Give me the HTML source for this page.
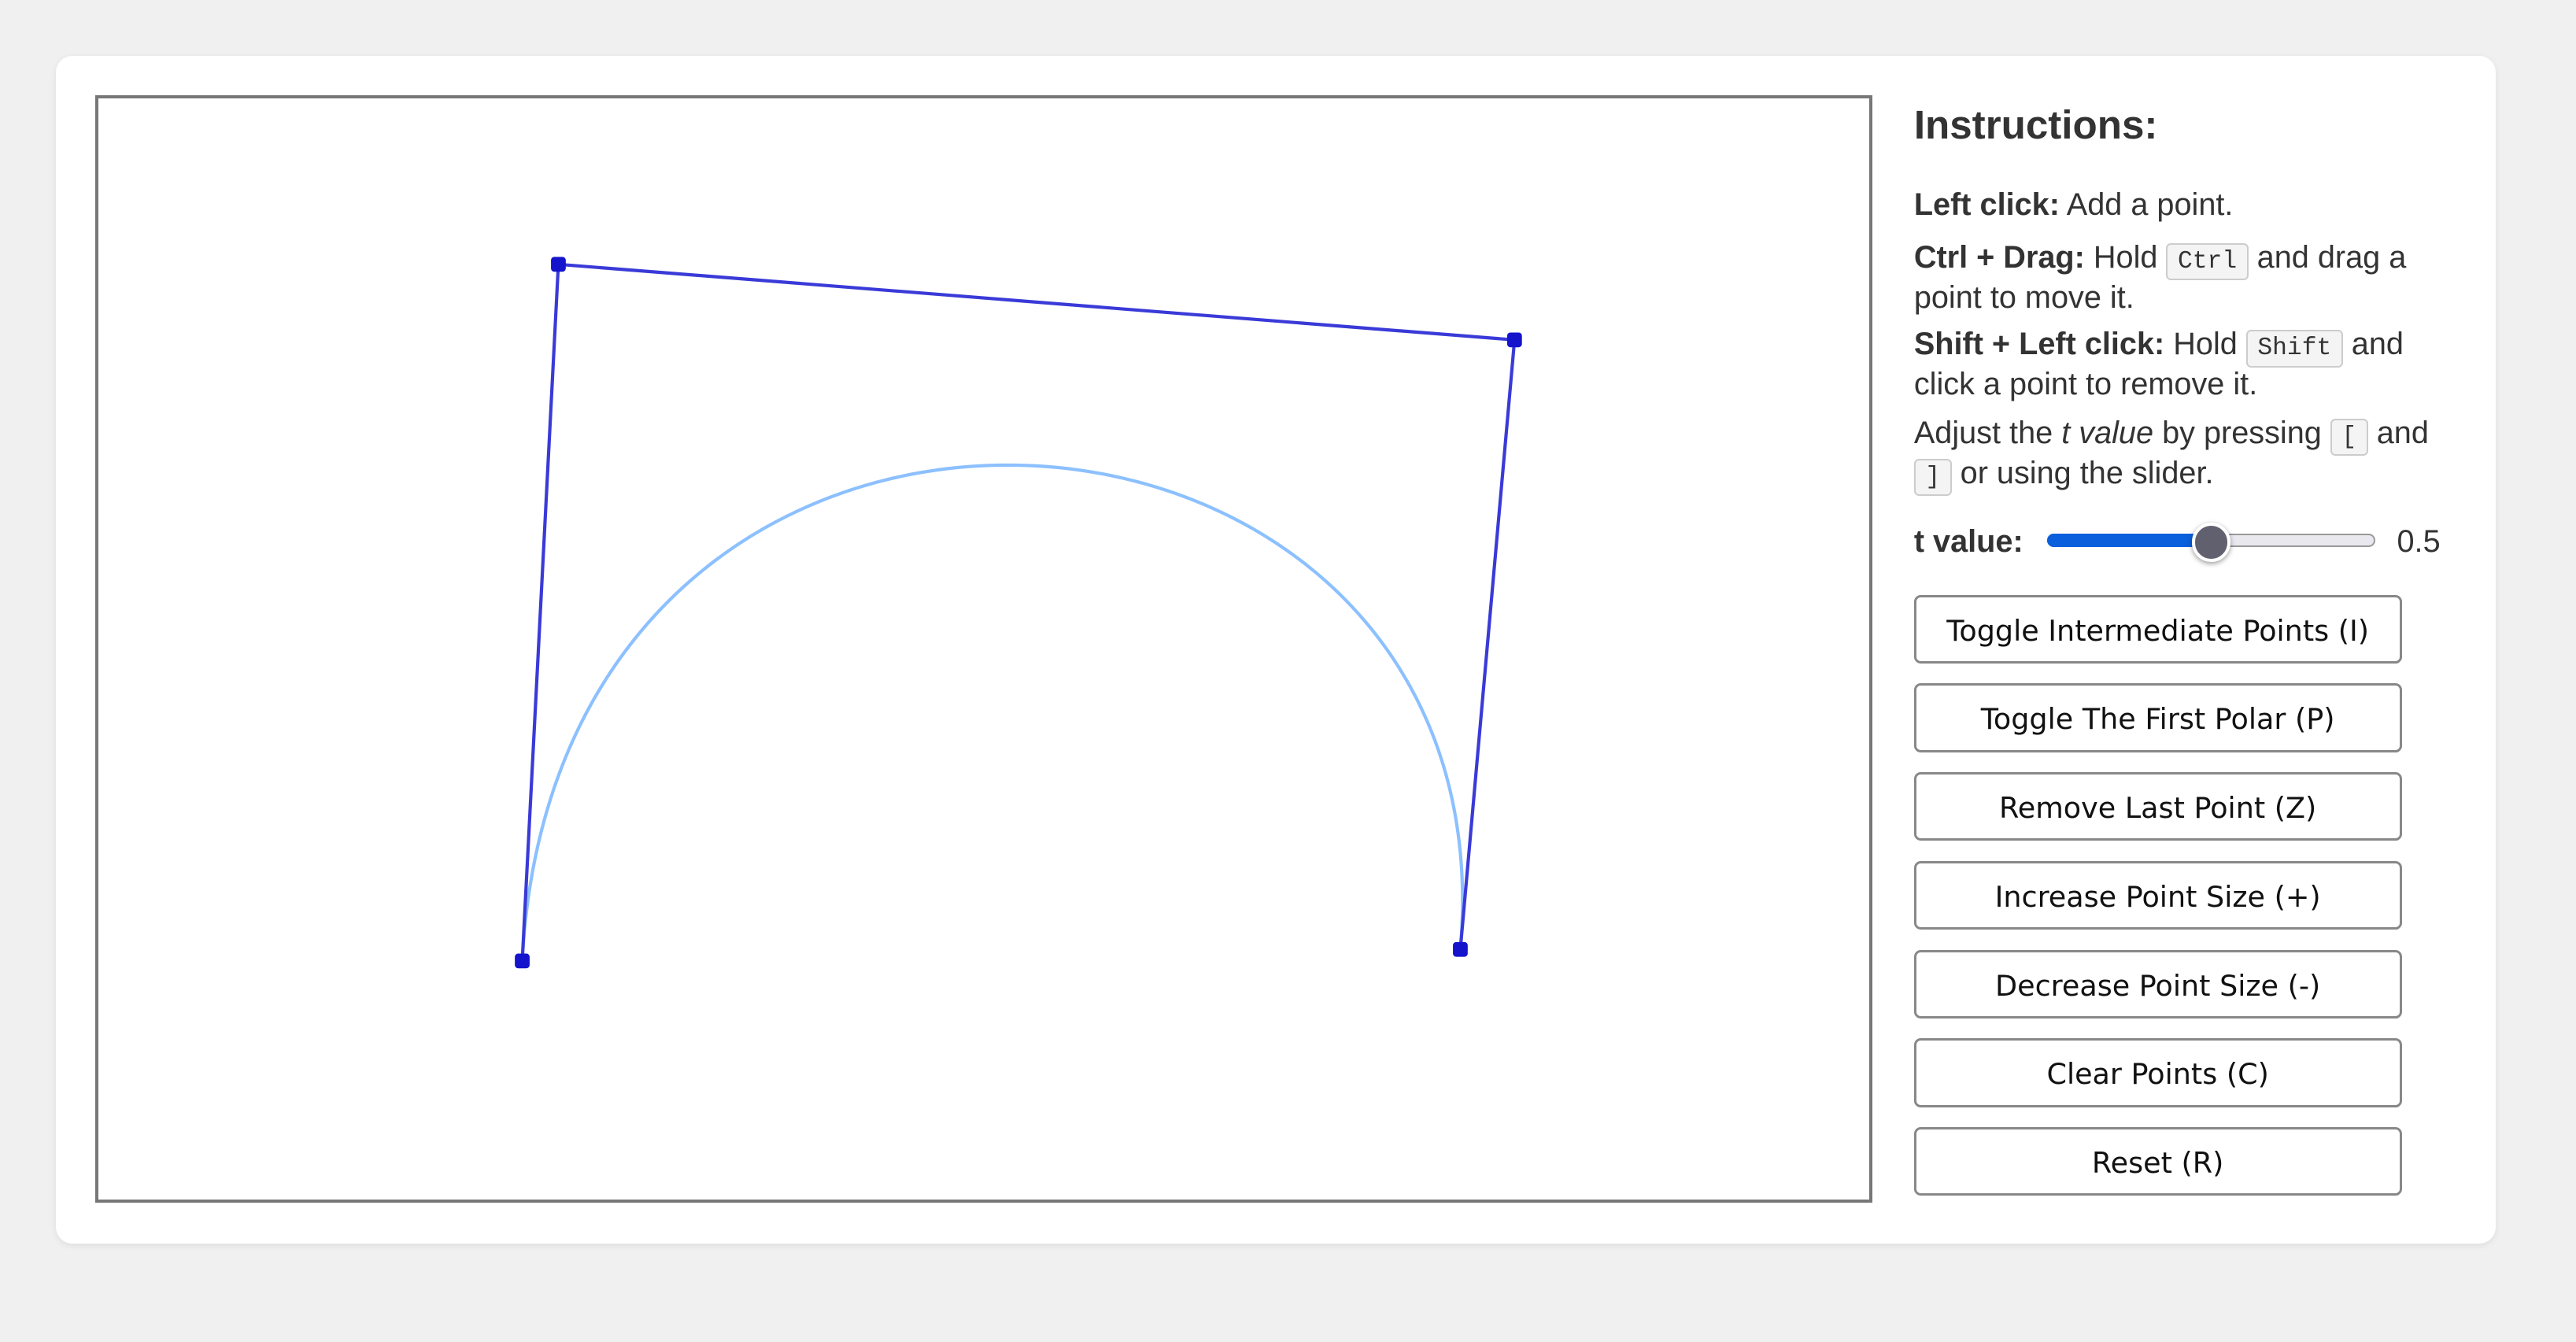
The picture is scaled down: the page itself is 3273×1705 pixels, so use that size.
<!DOCTYPE html>
<html><head><meta charset="utf-8"><style>
html,body{margin:0;padding:0;background:#f0f0f0;}
body{zoom:2.0874;width:1568px;height:817px;position:relative;font-family:"Liberation Sans",Arial,sans-serif;color:#333;overflow:hidden;}
#card{position:absolute;left:34px;top:34px;width:1485px;height:723px;background:#fff;border-radius:10px;box-shadow:0 1px 4px rgba(0,0,0,0.08);}
#canvas{position:absolute;left:58px;top:58px;width:1078px;height:670px;border:2px solid #777;background:#fff;}
#panel{position:absolute;left:1165px;top:58px;width:330px;}
h2{font-size:24.5px;margin:0;position:absolute;top:4px;left:0;white-space:nowrap;}
p{font-size:19px;line-height:22px;margin:0;position:absolute;left:0;width:325px;}
code{font-family:"Liberation Mono",monospace;font-size:15px;background:#f4f4f4;border:1px solid #ccc;border-radius:3px;padding:2px 6px;}
.btn{position:absolute;left:1165px;width:294px;height:39px;border:1.5px solid #888;border-radius:4px;background:#fff;text-align:center;line-height:41px;color:#111;font-family:"DejaVu Sans","Liberation Sans",sans-serif;font-size:17.5px;}
</style></head><body>
<div id="card"></div>
<svg id="canvas" width="1078" height="670" viewBox="60 60 1078 670"><g id="g"></g></svg>
<div id="panel">
<h2>Instructions:</h2>
<p style="top:56px"><b>Left click:</b> Add a point.</p>
<p style="top:88px"><b>Ctrl + Drag:</b> Hold <code>Ctrl</code> and drag a point to move it.</p>
<p style="top:141px"><b>Shift + Left click:</b> Hold <code>Shift</code> and click a point to remove it.</p>
<p style="top:195px">Adjust the <i>t value</i> by pressing <code>[</code> and <code>]</code> or using the slider.</p>
<p style="top:261px;width:80px"><b>t value:</b></p>
<p style="top:261px;left:294px;width:40px">0.5</p>
</div>
<div style="position:absolute;left:1246px;top:325px;width:198px;height:8px;">
<div style="position:absolute;left:0;top:0;width:198px;height:6px;border:1px solid #999;border-radius:4px;background:#e8e8ee;"></div>
<div style="position:absolute;left:0;top:0;width:100px;height:8px;border-radius:4px;background:#0a5fdc;"></div>
<div style="position:absolute;left:88px;top:-7px;width:20px;height:20px;border-radius:50%;background:#60606e;border:2px solid #fff;box-shadow:0 1px 3px rgba(0,0,0,0.4);"></div>
</div>
<div class="btn" style="top:362px">Toggle Intermediate Points (I)</div>
<div class="btn" style="top:416px">Toggle The First Polar (P)</div>
<div class="btn" style="top:470px">Remove Last Point (Z)</div>
<div class="btn" style="top:524px">Increase Point Size (+)</div>
<div class="btn" style="top:578px">Decrease Point Size (-)</div>
<div class="btn" style="top:632px">Clear Points (C)</div>
<div class="btn" style="top:686px">Reset (R)</div>
<script>
const pointsX=[318,340,922,889];
const pointsY=[585,161,207,578];
const NS='http://www.w3.org/2000/svg';
const g=document.getElementById('g');
function bez(t,a){const u=1-t;return u*u*u*a[0]+3*u*u*t*a[1]+3*u*t*t*a[2]+t*t*t*a[3];}
let d='';
for(let i=0;i<=200;i++){const t=i/200;d+=(i?'L':'M')+bez(t,pointsX).toFixed(2)+','+bez(t,pointsY).toFixed(2);}
const curve=document.createElementNS(NS,'path');
curve.setAttribute('d',d);curve.setAttribute('fill','none');curve.setAttribute('stroke','#8cc0ff');curve.setAttribute('stroke-width','2');


g.appendChild(curve);
const poly=document.createElementNS(NS,'polyline');
poly.setAttribute('points',pointsX.map((x,i)=>x+','+pointsY[i]).join(' '));
poly.setAttribute('fill','none');poly.setAttribute('stroke','#3a3ad8');poly.setAttribute('stroke-width','2');


g.appendChild(poly);
pointsX.forEach((x,i)=>{
const r=document.createElementNS(NS,'rect');
r.setAttribute('x',x-4.5);r.setAttribute('y',pointsY[i]-4.5);r.setAttribute('width',9);r.setAttribute('height',9);r.setAttribute('rx',2);r.setAttribute('fill','#1414cc');


g.appendChild(r);
});
</script>
</body></html>
